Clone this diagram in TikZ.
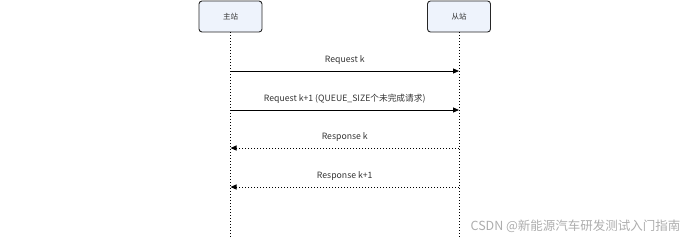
\documentclass[tikz,border=0pt]{standalone}
\usepackage{fontspec}
\setmainfont{Noto Sans CJK SC}
\usetikzlibrary{arrows.meta, positioning}
\definecolor{ActorFill}{HTML}{EEF3FC}
\definecolor{TextGray}{HTML}{333333}
\definecolor{MarkGray}{HTML}{ADADAD}

\begin{document}
\begin{tikzpicture}[x=1pt, y=1pt,
  actor/.style={rectangle, draw=black!85, line width=0.9pt, rounded corners=3pt,
    minimum height=31pt, minimum width=63pt, fill=ActorFill,
    font=\fontsize{7.5}{9}\selectfont, text=TextGray},
  lifeline/.style={draw=black, line width=1pt, dotted},
  call/.style={-{Triangle[length=6pt, width=5pt]}, line width=1pt},
  reply/.style={-{Triangle[length=6pt, width=5pt]}, line width=1pt, dotted},
  msglabel/.style={above=3pt, font=\fontsize{8.7}{10}\selectfont, text=TextGray},
  >=Stealth
]
  \useasboundingbox (0,0) rectangle (690,-239);
  % actors
  \node[actor] (master) at (230.5,-16.5) {主站};
  \node[actor] (slave) at (459,-16.5) {从站};
  \coordinate (masterEnd) at (230.5,-239);
  \coordinate (slaveEnd) at (459,-239);
  \draw[lifeline] (master.south) -- (masterEnd);
  \draw[lifeline] (slave.south) -- (slaveEnd);
  % messages
  \foreach \y/\n in {71/a, 110/b, 148/c, 187/d} {
    \coordinate (m\n) at (230.5,-\y);
    \coordinate (s\n) at (459,-\y);
  }
  \draw[call] (ma) -- node[msglabel] {Request k} (sa);
  \draw[call] (mb) -- node[msglabel] {Request k+1 (QUEUE\_SIZE个未完成请求)} (sb);
  \draw[reply] (sc) -- node[msglabel] {Response k} (mc);
  \draw[reply] (sd) -- node[msglabel] {Response k+1} (md);
  % watermark
  \node[anchor=east, text=MarkGray, font=\fontsize{12.5}{14}\selectfont] (mark) at (684,-226) {CSDN @新能源汽车研发测试入门指南};
\end{tikzpicture}
\end{document}
